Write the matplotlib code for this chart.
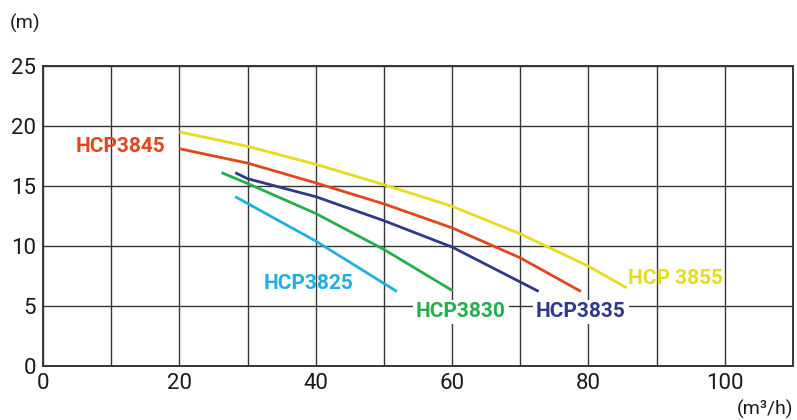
import matplotlib
matplotlib.use("Agg")
import matplotlib.pyplot as plt

plt.rcParams["font.family"] = ["Roboto", "DejaVu Sans"]

# pump curves: flow (m3/h) vs head (m)
q_3855 = [20, 30, 40, 50, 60, 70, 80, 85.6]
h_3855 = [19.5, 18.3, 16.8, 15.1, 13.3, 11.0, 8.3, 6.5]
q_3845 = [20, 30, 40, 50, 60, 70, 78.9]
h_3845 = [18.1, 16.9, 15.25, 13.5, 11.5, 9.0, 6.2]
q_3835 = [28.2, 30, 40, 50, 60, 72.7]
h_3835 = [16.1, 15.6, 14.1, 12.1, 9.9, 6.2]
q_3830 = [26.2, 30, 40, 50, 60.1]
h_3830 = [16.1, 15.2, 12.7, 9.7, 6.25]
q_3825 = [28.2, 40, 51.9]
h_3825 = [14.1, 10.4, 6.2]

series = [
    ("HCP 3855", q_3855, h_3855, "#e6dc1e"),
    ("HCP3845", q_3845, h_3845, "#e2461c"),
    ("HCP3835", q_3835, h_3835, "#2e3a87"),
    ("HCP3830", q_3830, h_3830, "#22b04a"),
    ("HCP3825", q_3825, h_3825, "#1fb0e0"),
]

# label anchors (data coords)
labels = {
    "HCP 3855": (85.8, 7.25, "left"),
    "HCP3845": (11.3, 18.25, "center"),
    "HCP3835": (78.9, 4.5, "center"),
    "HCP3830": (61.3, 4.5, "center"),
    "HCP3825": (38.9, 6.9, "center"),
}

fig = plt.figure(figsize=(7.97, 4.20), dpi=100)
ax = fig.add_axes([0.054, 0.129, 0.941, 0.714])

for name, q, h, c in series:
    ax.plot(q, h, color=c, lw=2, solid_capstyle="butt", solid_joinstyle="round")
    x, y, ha = labels[name]
    bb = None
    if name in ("HCP3835", "HCP3830"):
        bb = dict(facecolor="white", edgecolor="none", pad=2)
    ax.text(x, y, name, color=c, fontsize=15, fontweight="bold",
            ha=ha, va="center", bbox=bb, zorder=5)

ax.set_xlim(0, 110)
ax.set_ylim(0, 25)
ax.set_xticks(range(0, 111, 10))
ax.set_xticklabels(["0", "", "20", "", "40", "", "60", "", "80", "", "100", ""])
ax.set_yticks(range(0, 26, 5))
ax.grid(True, color="#3a3535", lw=1)
ax.set_axisbelow(True)
for s in ax.spines.values():
    s.set_color("#3a3535")
    s.set_linewidth(1.4)
ax.tick_params(length=0, labelsize=16, colors="#1a1a1a", pad=5)

fig.text(0.012, 0.945, "(m)", fontsize=14, color="#1a1a1a", va="center")
fig.text(0.995, 0.025, "(m³/h)", fontsize=14, color="#1a1a1a", ha="right", va="center")

fig.savefig("out.png", dpi=100)
